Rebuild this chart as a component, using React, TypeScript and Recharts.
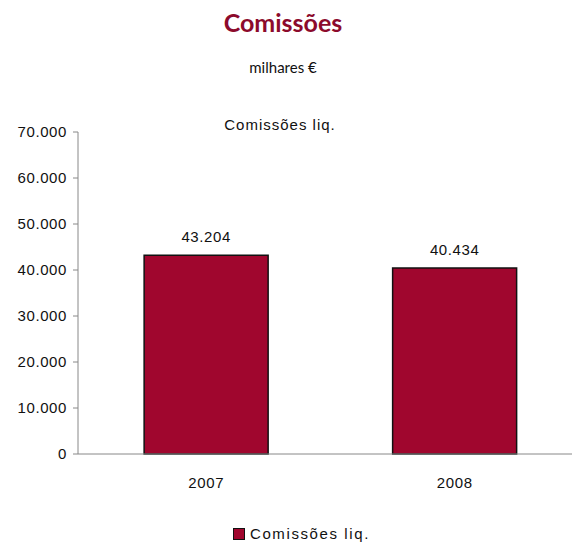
import React from "react";
import { BarChart, Bar, XAxis, YAxis, LabelList } from "recharts";

const categories = ["2007", "2008"];
const comissoesLiq = [43204, 40434];
const yTicks = [0, 10000, 20000, 30000, 40000, 50000, 60000, 70000];
const seriesName = "Comissões liq.";

const data = categories.map((c, i) => ({ year: c, value: comissoesLiq[i] }));

const fmt = (v: number) => {
  const s = String(Math.round(v));
  return s.replace(/\B(?=(\d{3})+(?!\d))/g, ".");
};

const BAR = "#a0062e";
const TITLE = "#8c0a2c";
const FONT = "'Liberation Sans', Arial, sans-serif";

export default function App() {
  return (
    <div
      style={{
        position: "absolute",
        left: 0,
        top: 0,
        width: 572,
        height: 545,
        overflow: "hidden",
        background: "#fff",
        fontFamily: FONT,
      }}
    >
      <div
        style={{
          position: "absolute",
          left: 0,
          width: 566,
          top: 7,
          textAlign: "center",
          fontFamily: "Lato, sans-serif",
          fontWeight: "bold",
          fontSize: 25,
          color: TITLE,
        }}
      >
        Comissões
      </div>
      <div
        style={{
          position: "absolute",
          left: 0,
          width: 566,
          top: 58,
          textAlign: "center",
          fontFamily: "Lato, sans-serif",
          fontSize: 15,
          color: "#111",
        }}
      >
        milhares €
      </div>
      <div
        style={{
          position: "absolute",
          left: 0,
          width: 560,
          top: 116,
          textAlign: "center",
          fontSize: 15,
          letterSpacing: 1,
          color: "#111",
        }}
      >
        {seriesName}
      </div>
      <BarChart
        width={590}
        height={545}
        data={data}
        margin={{ top: 132, right: 11, bottom: 61, left: 0 }}
        barCategoryGap="25%"
      >
        <YAxis
          width={78}
          domain={[0, 70000]}
          ticks={yTicks}
          tickFormatter={fmt}
          tickSize={5}
          tickMargin={6}
          stroke="#888"
          tick={{ fill: "#111", fontSize: 15, fontFamily: FONT, letterSpacing: 0.6 }}
          interval={0}
        />
        <XAxis
          dataKey="year"
          tickLine={false}
          tickMargin={17}
          padding={{ left: 4, right: 0 }}
          stroke="#888"
          tick={{ fill: "#111", fontSize: 15, fontFamily: FONT, letterSpacing: 0.6 }}
        />
        <Bar
          dataKey="value"
          name={seriesName}
          fill={BAR}
          stroke="#111"
          strokeWidth={1.5}
          isAnimationActive={false}
        >
          <LabelList
            dataKey="value"
            position="top"
            offset={13}
            formatter={(v: any) => fmt(Number(v))}
            style={{ fill: "#111", fontSize: 15, fontFamily: FONT, letterSpacing: 0.6 }}
          />
        </Bar>
      </BarChart>
      <div
        style={{
          position: "absolute",
          left: 233,
          top: 525,
          display: "flex",
          alignItems: "center",
          fontSize: 15,
          letterSpacing: 1.6,
          color: "#111",
          whiteSpace: "nowrap",
        }}
      >
        <span
          style={{
            display: "inline-block",
            width: 10,
            height: 10,
            background: BAR,
            border: "1px solid #111",
            marginRight: 5,
          }}
        />
        {seriesName}
      </div>
    </div>
  );
}
